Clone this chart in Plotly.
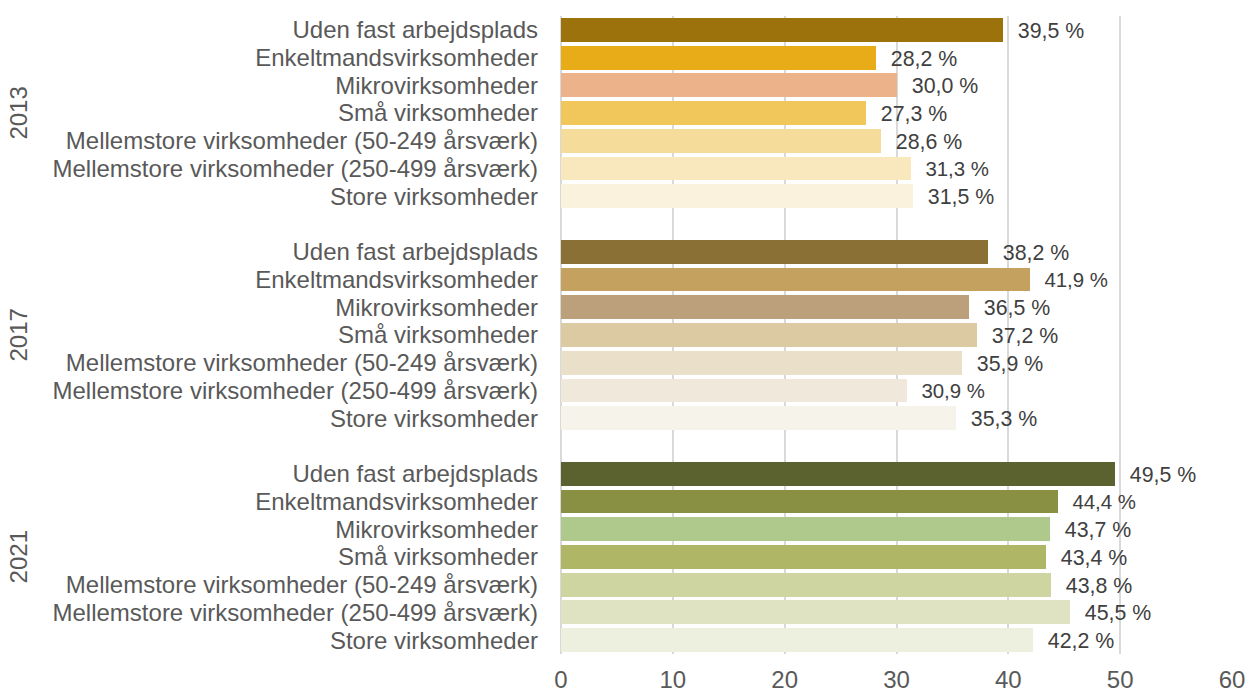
import plotly.graph_objects as go

years = ["2013", "2017", "2021"]
categories = [
    "Uden fast arbejdsplads",
    "Enkeltmandsvirksomheder",
    "Mikrovirksomheder",
    "Små virksomheder",
    "Mellemstore virksomheder (50-249 årsværk)",
    "Mellemstore virksomheder (250-499 årsværk)",
    "Store virksomheder",
]
values_2013 = [39.5, 28.2, 30.0, 27.3, 28.6, 31.3, 31.5]
values_2017 = [38.2, 41.9, 36.5, 37.2, 35.9, 30.9, 35.3]
values_2021 = [49.5, 44.4, 43.7, 43.4, 43.8, 45.5, 42.2]

colors_2013 = ["#9C720D", "#E8AC18", "#ECB38B", "#F1C65B", "#F6DC9B", "#F9E8BE", "#FBF2DD"]
colors_2017 = ["#8B7035", "#C4A15E", "#BCA07C", "#DCCAA3", "#EAE0CA", "#F0E8DA", "#F6F3EA"]
colors_2021 = ["#5B622F", "#899044", "#AFC98D", "#AFB665", "#CED5A1", "#DFE3C1", "#EDEFDF"]

FONT = "Liberation Sans, Arial, sans-serif"
SIZE = 24

fig = go.Figure()

all_values = [values_2013, values_2017, values_2021]
all_colors = [colors_2013, colors_2017, colors_2021]

ypos, ytext = [], []
for g, (year, vals, cols) in enumerate(zip(years, all_values, all_colors)):
    pos = [g * 8 + i for i in range(len(categories))]
    ypos += pos
    ytext += categories
    fig.add_bar(
        x=vals, y=pos, orientation="h",
        marker=dict(color=cols, line=dict(width=0)),
        width=0.86,
        text=vals, texttemplate="  %{x:.1f} %", textposition="outside",
        textfont=dict(family=FONT, size=SIZE, color="#404040"),
        cliponaxis=False,
        showlegend=False,
    )
    fig.add_annotation(
        text=year, x=-0.8085, xref="paper", xanchor="center",
        y=g * 8 + 3, yref="y", yanchor="middle",
        textangle=-90, showarrow=False,
        font=dict(family=FONT, size=SIZE, color="#595959"),
    )

fig.update_layout(
    width=1247, height=692,
    margin=dict(l=561, r=15, t=16, b=38),
    plot_bgcolor="white", paper_bgcolor="white",
    separators=", ",
    bargap=0,
    font=dict(family=FONT, size=SIZE, color="#595959"),
)
fig.update_xaxes(
    range=[0, 60], dtick=10, showgrid=True, gridcolor="#D9D9D9", gridwidth=1.5,
    zeroline=True, zerolinecolor="#D9D9D9", zerolinewidth=1.5,
    tickfont=dict(family=FONT, size=SIZE, color="#595959"), ticks="",
    ticklabelstandoff=9, automargin=False,
)
fig.update_yaxes(
    tickvals=ypos, ticktext=ytext,
    autorange=False, range=[22.5, -0.5], showgrid=False, zeroline=False, ticks="",
    tickfont=dict(family=FONT, size=SIZE, color="#595959"),
    ticklabelstandoff=22, automargin=False,
)

# drop the default 8px page margin so the figure fills the window
fig.write_html("out.html", config={"displayModeBar": False},
               post_script="document.body.style.margin = '0';")
